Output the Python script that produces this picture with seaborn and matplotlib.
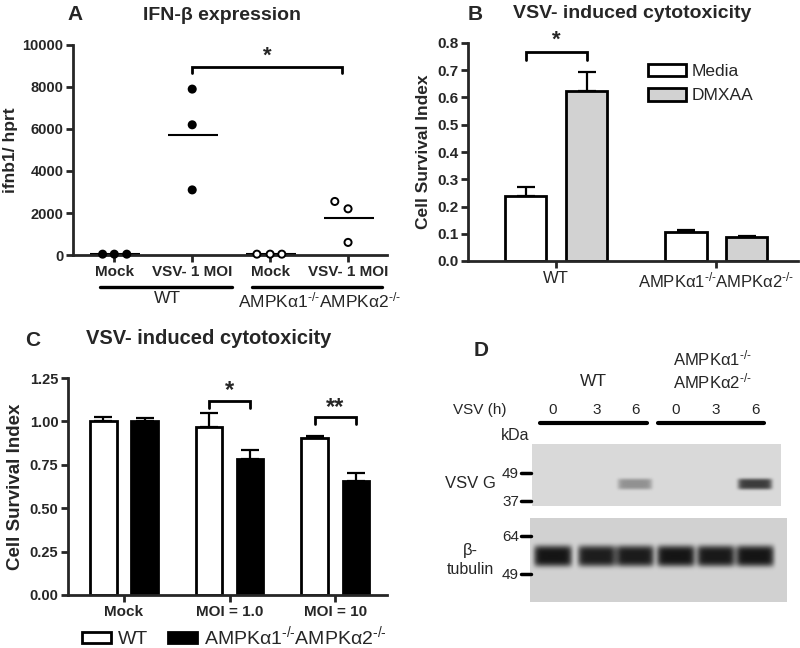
import numpy as np
import pandas as pd
import matplotlib
matplotlib.use('Agg')
import matplotlib.pyplot as plt
from matplotlib.patches import Patch
import seaborn as sns

# ---------------- data ----------------
# A: IFN-beta expression (ifnb1 / hprt)
a_groups = ['Mock', 'VSV- 1 MOI', 'Mock', 'VSV- 1 MOI']
a_wt_mock = [40, 40, 40]
a_wt_vsv = [7900, 6200, 3100]
a_ko_mock = [40, 40, 40]
a_ko_vsv = [2550, 2200, 600]

# B: cell survival, media vs DMXAA
b_groups = ['WT', 'KO']
b_media = [0.238, 0.108]
b_media_err = [0.033, 0.004]
b_dmxaa = [0.625, 0.088]
b_dmxaa_err = [0.070, 0.004]

# C: cell survival, WT vs KO
c_groups = ['Mock', 'MOI = 1.0', 'MOI = 10']
c_wt = [1.005, 0.965, 0.905]
c_wt_err = [0.020, 0.085, 0.010]
c_ko = [1.000, 0.785, 0.655]
c_ko_err = [0.020, 0.050, 0.050]

# D: blot lanes and band strength (0 = none, 1 = black)
d_times = ['0', '3', '6', '0', '3', '6']
d_vsvg = [0.0, 0.0, 0.33, 0.0, 0.0, 0.72]
d_tub = [0.90, 0.86, 0.87, 0.90, 0.88, 0.90]

SUP = r'$^{\text{-/-}}$'
KO_LABEL = 'AMPKα1' + SUP + 'AMPKα2' + SUP

sns.set_style('ticks')
plt.rcParams['font.family'] = ['Liberation Sans', 'DejaVu Sans']
plt.rcParams['mathtext.fontset'] = 'custom'
plt.rcParams['mathtext.rm'] = 'Liberation Sans'
plt.rcParams['mathtext.it'] = 'Liberation Sans:italic'
plt.rcParams['mathtext.bf'] = 'Liberation Sans:bold'

W, H = 800, 648
fig = plt.figure(figsize=(8, 6.48), dpi=100)


def box(l, t, r, b):
    return [l / W, 1 - b / H, (r - l) / W, (b - t) / H]


def style_axes(ax, ysize):
    sns.despine(ax=ax)
    for s in ['left', 'bottom']:
        ax.spines[s].set_linewidth(2)
    ax.tick_params(width=2, length=5, pad=2)
    ax.tick_params(axis='y', labelsize=ysize)
    for lbl in ax.get_yticklabels():
        lbl.set_fontweight('bold')


def bracket(ax, x0, x1, y, drop, label, ys, size=16):
    ax.plot([x0, x0, x1, x1], [y - drop, y, y, y - drop], color='black', lw=2,
            clip_on=False, solid_joinstyle='miter')
    ax.text((x0 + x1) / 2, ys, label, ha='center', va='center', fontsize=size,
            fontweight='bold')


def up_errors(ax, containers, vals, errs):
    for cont, v, e in zip(containers, vals, errs):
        for bar, vv, ee in zip(cont, v, e):
            x = bar.get_x() + bar.get_width() / 2
            ax.errorbar(x, vv, yerr=[[0], [ee]], fmt='none', ecolor='black',
                        elinewidth=1.6, capsize=6.5, capthick=1.6, zorder=1)


# ---------------- panel A ----------------
axA = fig.add_axes(box(73, 45, 387, 255))
jitter = [[-0.15, 0, 0.16], [0, 0, 0], [-0.17, 0, 0.15], [-0.17, 0, 0]]
series = [a_wt_mock, a_wt_vsv, a_ko_mock, a_ko_vsv]
rows = []
for i, vals in enumerate(series):
    for j, v in enumerate(vals):
        rows.append({'x': i + jitter[i][j], 'val': v, 'geno': 'WT' if i < 2 else 'KO'})
dfA = pd.DataFrame(rows)
sns.scatterplot(data=dfA, x='x', y='val', hue='geno', palette={'WT': 'black', 'KO': 'white'},
                edgecolor='black', linewidth=1.4, s=26, legend=False, ax=axA, zorder=3,
                clip_on=False)
for i, vals in enumerate(series):
    axA.hlines(np.mean(vals), i - 0.31, i + 0.33, color='black', lw=1.5)
axA.set_xlim(-0.53, 3.5)
axA.set_ylim(0, 10000)
axA.set_yticks(range(0, 10001, 2000))
axA.set_xticks(range(4))
axA.set_xticklabels(a_groups, fontsize=11, fontweight='bold')
axA.set_xlabel('')
axA.set_ylabel('ifnb1/ hprt', fontsize=12.5, fontweight='bold', labelpad=3)
style_axes(axA, 10.5)
bracket(axA, 1, 2.92, 8950, 300, '*', 9450)
for x0, x1, lab, cx in [(-0.18, 1.51, 'WT', 0.68), (1.77, 3.44, KO_LABEL, 2.64)]:
    axA.plot([x0, x1], [-1520, -1520], color='black', lw=2.4, clip_on=False)
    axA.text(cx, -1700, lab, ha='center', va='top', fontsize=12.5)

# ---------------- panel B ----------------
axB = fig.add_axes(box(468, 43, 798, 261))
dfB = pd.DataFrame({'group': b_groups * 2,
                    'cond': ['Media'] * 2 + ['DMXAA'] * 2,
                    'val': b_media + b_dmxaa})
sns.barplot(data=dfB, x='group', y='val', hue='cond', hue_order=['Media', 'DMXAA'],
            palette={'Media': 'white', 'DMXAA': '#d2d2d2'}, edgecolor='black',
            linewidth=2, width=0.76, gap=0.32, saturation=1, errorbar=None,
            legend=False, ax=axB, zorder=2)
up_errors(axB, axB.containers, [b_media, b_dmxaa], [b_media_err, b_dmxaa_err])
axB.set_xlim(-0.55, 1.51)
axB.set_ylim(0, 0.8)
axB.set_yticks(np.arange(0, 0.81, 0.1))
axB.set_yticklabels([f'{v:.1f}' for v in np.arange(0, 0.81, 0.1)])
axB.set_xticks([0, 1])
axB.set_xticklabels(['WT', KO_LABEL], fontsize=12)
axB.set_xlabel('')
axB.set_ylabel('Cell Survival Index', fontsize=12.5, fontweight='bold', labelpad=4)
style_axes(axB, 11)
bracket(axB, -0.19, 0.19, 0.767, 0.03, '*', 0.812)
hB = [Patch(facecolor='white', edgecolor='black', lw=2, label='Media'),
      Patch(facecolor='#d2d2d2', edgecolor='black', lw=2, label='DMXAA')]
axB.legend(handles=hB, loc='upper left', bbox_to_anchor=(0.545, 0.905), frameon=False,
           fontsize=12.5, handlelength=2.2, handleheight=0.75, handletextpad=0.3,
           labelspacing=0.5, borderpad=0, borderaxespad=0)

# ---------------- panel C ----------------
axC = fig.add_axes(box(68, 378, 387, 595))
dfC = pd.DataFrame({'group': c_groups * 2,
                    'geno': ['WT'] * 3 + ['KO'] * 3,
                    'val': c_wt + c_ko})
sns.barplot(data=dfC, x='group', y='val', hue='geno', hue_order=['WT', 'KO'],
            palette={'WT': 'white', 'KO': 'black'}, edgecolor='black',
            linewidth=2, width=0.78, gap=0.36, saturation=1, errorbar=None,
            legend=False, ax=axC, zorder=2)
up_errors(axC, axC.containers, [c_wt, c_ko], [c_wt_err, c_ko_err])
axC.set_xlim(-0.53, 2.49)
axC.set_ylim(0, 1.25)
axC.set_yticks(np.arange(0, 1.26, 0.25))
axC.set_yticklabels([f'{v:.2f}' for v in np.arange(0, 1.26, 0.25)])
axC.set_xticklabels(c_groups, fontsize=11, fontweight='bold')
axC.set_xlabel('')
axC.set_ylabel('Cell Survival Index', fontsize=13.5, fontweight='bold', labelpad=4)
style_axes(axC, 10.5)
bracket(axC, 1 - 0.195, 1 + 0.195, 1.117, 0.04, '*', 1.18, size=17)
bracket(axC, 2 - 0.195, 2 + 0.195, 1.025, 0.04, '**', 1.08, size=17)
hC = [Patch(facecolor='white', edgecolor='black', lw=2, label='WT'),
      Patch(facecolor='black', edgecolor='black', lw=2, label=KO_LABEL)]
fig.legend(handles=hC, loc='center left', bbox_to_anchor=(82 / W, 1 - 636 / H), ncol=2,
           frameon=False, fontsize=14, handlelength=1.5, handleheight=0.5,
           handletextpad=0.35, columnspacing=1.0, borderpad=0, borderaxespad=0)

# ---------------- panel D (blot) ----------------
axD = fig.add_axes([0.5, 0, 0.5, 328 / H])
axD.set_xlim(400, 800)
axD.set_ylim(648, 320)
axD.axis('off')
lanes = [553, 597, 635, 676, 716, 755]


def blot(ax, x0, x1, y0, y1, bg, strength, yc, hw, hh):
    xs = np.arange(x0, x1) + 0.5
    ys = np.arange(y0, y1) + 0.5
    X, Y = np.meshgrid(xs, ys)
    dark = np.zeros(X.shape)
    for cx, v in zip(lanes, strength):
        dark += v * np.exp(-np.abs((X - cx) / hw) ** 8) * np.exp(-np.abs((Y - yc) / hh) ** 4)
    img = bg * (1 - np.clip(dark, 0, 1))
    ax.imshow(img, cmap='gray', vmin=0, vmax=1, extent=(x0, x1, y1, y0),
              aspect='auto', interpolation='bilinear', zorder=1)


blot(axD, 532, 781, 444, 506, 0.85, d_vsvg, 484, 17, 5.5)
blot(axD, 530, 787, 518, 602, 0.82, d_tub, 556, 19, 10.5)

for x, t in zip(lanes, d_times):
    axD.text(x, 410, t, ha='center', va='center', fontsize=11)
axD.text(480, 410, 'VSV (h)', ha='center', va='center', fontsize=11)
axD.plot([540, 647], [423, 423], color='black', lw=3)
axD.plot([658, 764], [423, 423], color='black', lw=3)
axD.text(593, 381, 'WT', ha='center', va='center', fontsize=12.5)
axD.text(712, 358, 'AMPKα1' + SUP, ha='center', va='center', fontsize=12)
axD.text(712, 381, 'AMPKα2' + SUP, ha='center', va='center', fontsize=12)
axD.text(515, 436, 'kDa', ha='center', va='center', fontsize=11.5)
axD.text(470, 484, 'VSV G', ha='center', va='center', fontsize=12)
axD.text(470, 551, 'β-', ha='center', va='center', fontsize=12)
axD.text(470, 570, 'tubulin', ha='center', va='center', fontsize=11.5)
for y, m in [(473, '49'), (501, '37'), (536, '64'), (574, '49')]:
    axD.plot([521, 531], [y, y], color='black', lw=2.5)
    axD.text(519, y + 1, m, ha='right', va='center', fontsize=11)

# ---------------- titles and panel letters ----------------
fig.text(75 / W, 1 - 15 / H, 'A', ha='center', va='center', fontsize=15, fontweight='bold')
fig.text(222 / W, 1 - 15 / H, 'IFN-β expression', ha='center', va='center', fontsize=14,
         fontweight='bold')
fig.text(475 / W, 1 - 15 / H, 'B', ha='center', va='center', fontsize=15, fontweight='bold')
fig.text(632 / W, 1 - 13 / H, 'VSV- induced cytotoxicity', ha='center', va='center',
         fontsize=14, fontweight='bold')
fig.text(33 / W, 1 - 340 / H, 'C', ha='center', va='center', fontsize=15, fontweight='bold')
fig.text(209 / W, 1 - 339 / H, 'VSV- induced cytotoxicity', ha='center', va='center',
         fontsize=14.5, fontweight='bold')
fig.text(481 / W, 1 - 350 / H, 'D', ha='center', va='center', fontsize=15, fontweight='bold')

fig.savefig('out.png', dpi=100)
